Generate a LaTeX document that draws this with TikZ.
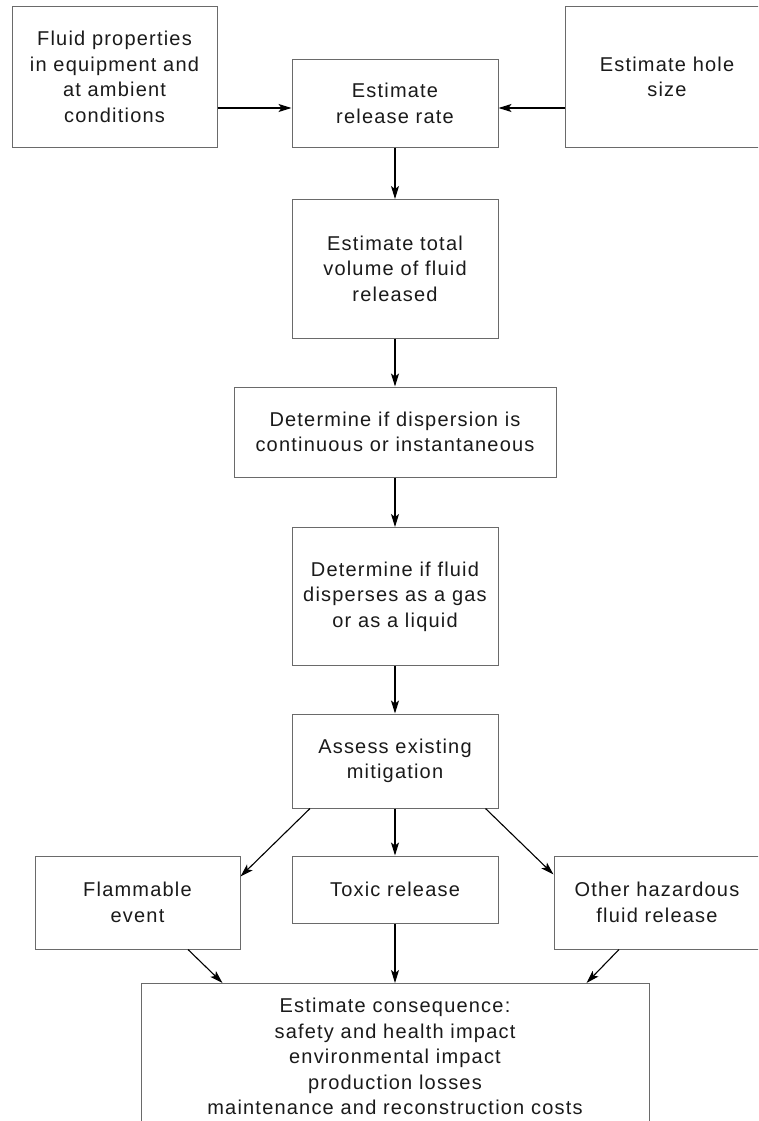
\documentclass[tikz,border=0pt]{standalone}
\usepackage{fontspec}
\setmainfont{Liberation Sans}[LetterSpace=6]
\usetikzlibrary{arrows.meta}
\definecolor{boxline}{HTML}{6A6A6A}
\definecolor{inktext}{HTML}{1A1A1A}
\begin{document}
\begin{tikzpicture}[x=1pt,y=-1pt,
  stepbox/.style={draw=boxline, line width=1pt, rectangle, inner sep=0pt,
    align=center, text=inktext, font=\fontsize{20}{25.5}\selectfont},
  arr/.style={draw=black, line width=1.1pt,
    -{Stealth[length=13pt,width=8pt,inset=3pt]}}]
\clip (0,0) rectangle (758,1121);
\fill[white] (0,0) rectangle (758,1121);

% top row
\node[stepbox, minimum width=205pt, minimum height=140pt] (b1) at (114.5,77)
  {Fluid properties\\in equipment and\\at ambient\\conditions};
\node[stepbox, minimum width=206pt, minimum height=87pt] (b2) at (395,103.5)
  {Estimate\\release rate};
\node[stepbox, minimum width=204pt, minimum height=140pt] (b3) at (667,77)
  {Estimate hole\\size};

% main column
\node[stepbox, minimum width=206pt, minimum height=138.5pt] (b4) at (395,268.75)
  {Estimate total\\volume of fluid\\released};
\node[stepbox, minimum width=322pt, minimum height=90pt] (b5) at (395,432)
  {Determine if dispersion is\\continuous or instantaneous};
\node[stepbox, minimum width=206pt, minimum height=138pt] (b6) at (395,596.5)
  {Determine if fluid\\disperses as a gas\\or as a liquid};
\node[stepbox, minimum width=206pt, minimum height=94pt] (b7) at (395,761)
  {Assess existing\\mitigation};

% release types
\node[stepbox, minimum width=205pt, minimum height=93pt] (b8) at (137.5,902.5)
  {Flammable\\event};
\node[stepbox, minimum width=206pt, minimum height=67.5pt] (b9) at (395,889.75)
  {Toxic release};
\node[stepbox, minimum width=206pt, minimum height=93pt] (b10) at (657,902.5)
  {Other hazardous\\fluid release};

% consequence
\node[stepbox, minimum width=508pt, minimum height=146pt] (b11) at (395,1056.5)
  {Estimate consequence:\\safety and health impact\\environmental impact\\production losses\\maintenance and reconstruction costs};

% connectors
\draw[arr] (b1.east |- 0,108) -- (b2.west |- 0,108);
\draw[arr] (b3.west |- 0,108) -- (b2.east |- 0,108);
\draw[arr] (b2) -- (b4);
\draw[arr] (b4) -- (b5);
\draw[arr] (b5) -- (b6);
\draw[arr] (b6) -- (b7);
\draw[arr] (b7) -- (b9);
\draw[arr] (b9) -- (b11);
\draw[arr] ([xshift=18.5pt]b7.south west) -- ([yshift=-21pt]b8.north east);
\draw[arr] ([xshift=-13pt]b7.south east) -- ([yshift=-19pt]b10.north west);
\draw[arr] ([xshift=50.5pt]b8.south) -- ([xshift=82pt]b11.north west);
\draw[arr] ([xshift=-38pt]b10.south) -- ([xshift=-63pt]b11.north east);
\end{tikzpicture}
\end{document}
